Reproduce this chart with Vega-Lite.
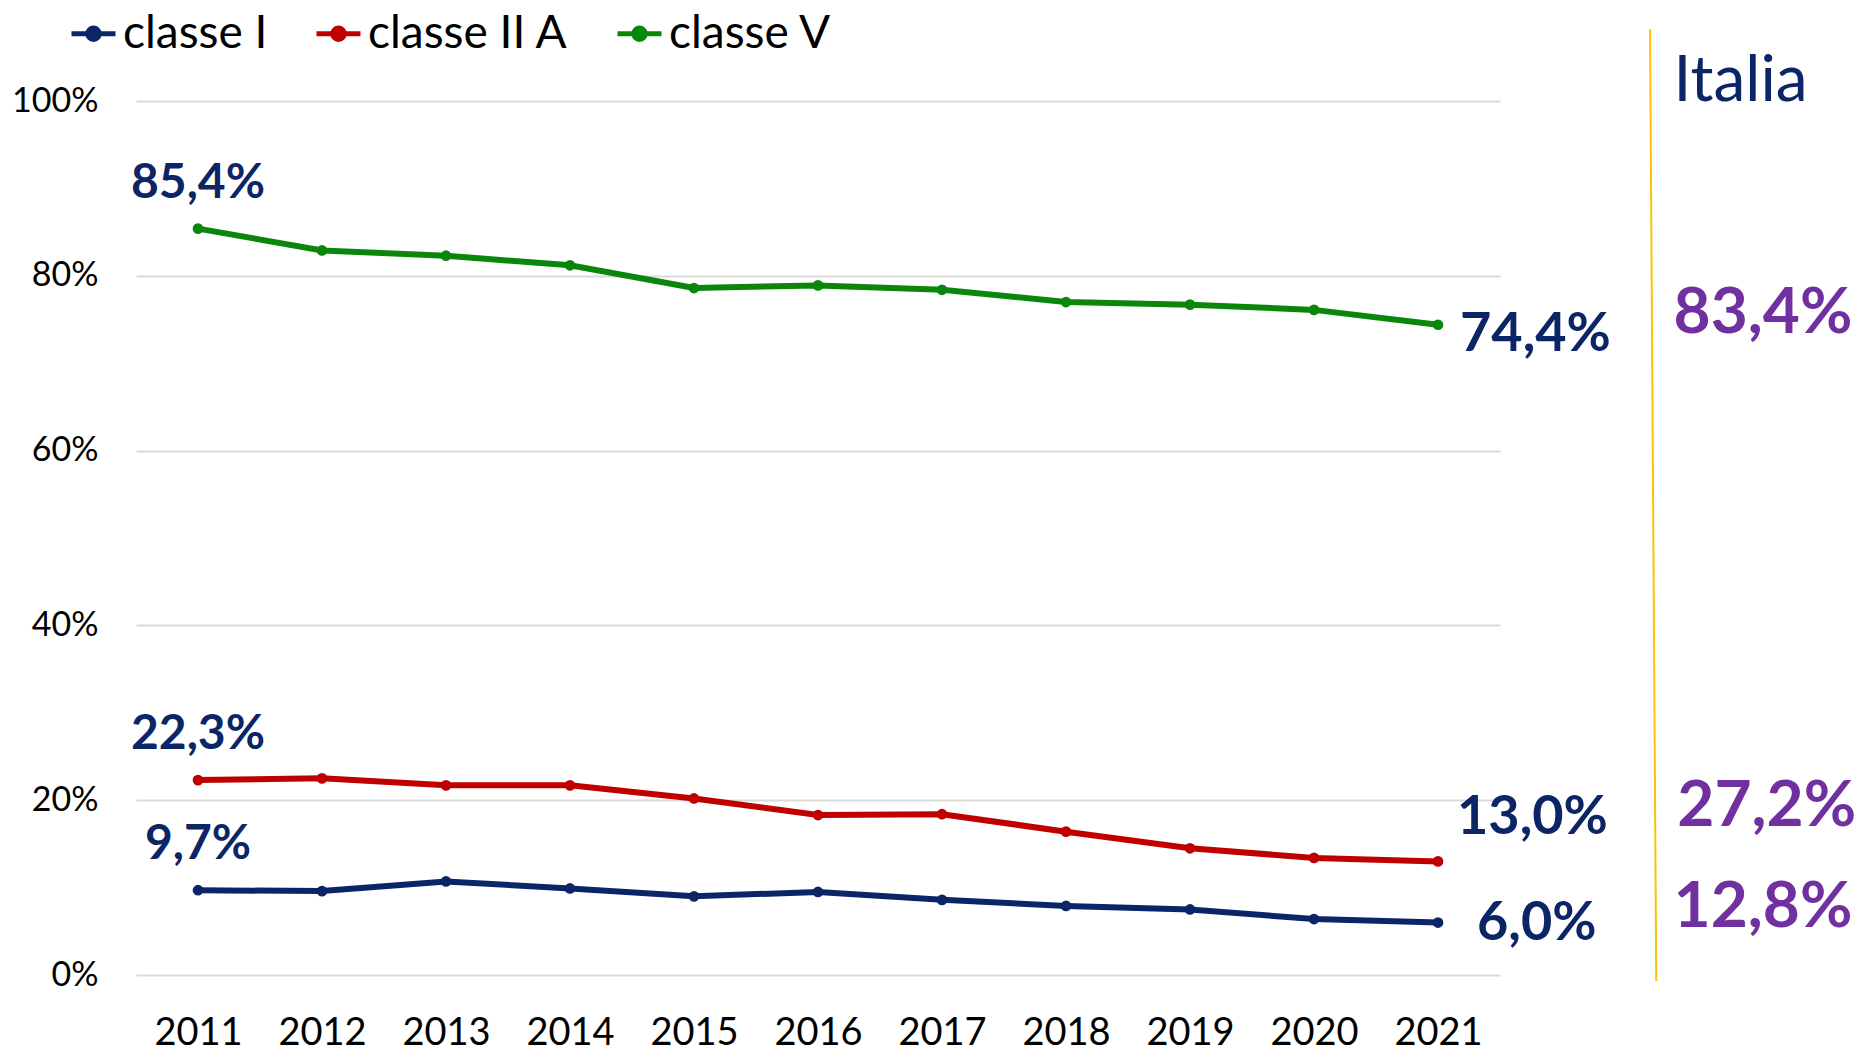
{
  "$schema": "https://vega.github.io/schema/vega-lite/v6.json",
  "width": 1364,
  "height": 874,
  "autosize": {"type": "none"},
  "padding": {"left": 136, "top": 101, "right": 364, "bottom": 76},
  "background": "white",
  "config": {
    "view": {"stroke": null},
    "font": "Lato",
    "text": {"font": "Lato"}
  },
  "datasets": {
    "series": [
      {"year": 2011, "classe": "classe I", "value": 9.7},
      {"year": 2012, "classe": "classe I", "value": 9.6},
      {"year": 2013, "classe": "classe I", "value": 10.7},
      {"year": 2014, "classe": "classe I", "value": 9.9},
      {"year": 2015, "classe": "classe I", "value": 9.0},
      {"year": 2016, "classe": "classe I", "value": 9.5},
      {"year": 2017, "classe": "classe I", "value": 8.6},
      {"year": 2018, "classe": "classe I", "value": 7.9},
      {"year": 2019, "classe": "classe I", "value": 7.5},
      {"year": 2020, "classe": "classe I", "value": 6.4},
      {"year": 2021, "classe": "classe I", "value": 6.0},
      {"year": 2011, "classe": "classe II A", "value": 22.3},
      {"year": 2012, "classe": "classe II A", "value": 22.5},
      {"year": 2013, "classe": "classe II A", "value": 21.7},
      {"year": 2014, "classe": "classe II A", "value": 21.7},
      {"year": 2015, "classe": "classe II A", "value": 20.2},
      {"year": 2016, "classe": "classe II A", "value": 18.3},
      {"year": 2017, "classe": "classe II A", "value": 18.4},
      {"year": 2018, "classe": "classe II A", "value": 16.4},
      {"year": 2019, "classe": "classe II A", "value": 14.5},
      {"year": 2020, "classe": "classe II A", "value": 13.4},
      {"year": 2021, "classe": "classe II A", "value": 13.0},
      {"year": 2011, "classe": "classe V", "value": 85.4},
      {"year": 2012, "classe": "classe V", "value": 82.9},
      {"year": 2013, "classe": "classe V", "value": 82.3},
      {"year": 2014, "classe": "classe V", "value": 81.2},
      {"year": 2015, "classe": "classe V", "value": 78.6},
      {"year": 2016, "classe": "classe V", "value": 78.9},
      {"year": 2017, "classe": "classe V", "value": 78.4},
      {"year": 2018, "classe": "classe V", "value": 77.0},
      {"year": 2019, "classe": "classe V", "value": 76.7},
      {"year": 2020, "classe": "classe V", "value": 76.1},
      {"year": 2021, "classe": "classe V", "value": 74.4}
    ],
    "italia": [
      {"classe": "classe V", "italia": 83.4},
      {"classe": "classe II A", "italia": 27.2},
      {"classe": "classe I", "italia": 12.8}
    ]
  },
  "layer": [
    {
      "data": {"name": "series"},
      "mark": {"type": "line", "strokeWidth": 6, "point": {"filled": true, "size": 115}},
      "encoding": {
        "x": {
          "field": "year", "type": "quantitative",
          "scale": {"domain": [2010.5, 2021.5], "nice": false, "zero": false},
          "axis": {
            "title": null, "values": [2011,2012,2013,2014,2015,2016,2017,2018,2019,2020,2021],
            "format": "d", "grid": false, "domain": false, "ticks": false,
            "labelFont": "Lato", "labelFontSize": 38, "labelColor": "#000000", "labelPadding": 39,
            "labelFlush": false
          }
        },
        "y": {
          "field": "value", "type": "quantitative",
          "scale": {"domain": [0, 100], "nice": false},
          "axis": {
            "title": null, "values": [0,20,40,60,80,100], "labelExpr": "datum.value + '%'",
            "grid": true, "gridColor": "#D9D9D9", "gridWidth": 2, "domain": false, "ticks": false,
            "labelFont": "Lato", "labelFontSize": 34, "labelColor": "#000000", "labelPadding": 38
          }
        },
        "color": {
          "field": "classe", "type": "nominal",
          "scale": {"domain": ["classe I", "classe II A", "classe V"], "range": ["#0C2566", "#C00000", "#0A870A"]},
          "legend": {
            "title": null, "orient": "none", "direction": "horizontal",
            "legendX": -67, "legendY": -92, "padding": 0,
            "labelFont": "Lato", "labelFontSize": 46, "labelColor": "#000000", "labelOffset": 5,
            "labelLimit": 500, "columnPadding": 38,
            "symbolType": "M-1,0H1M-0.26,0A0.26,0.26 0 1,1 0.26,0A0.26,0.26 0 1,1 -0.26,0Z",
            "symbolSize": 1936, "symbolStrokeWidth": 5,
            "encode": {"symbols": {"update": {"fill": {"scale": "color", "field": "value"}, "stroke": {"scale": "color", "field": "value"}}}}
          }
        }
      }
    },
    {
      "data": {"name": "series"},
      "transform": [
        {"filter": "datum.year == 2011"},
        {"calculate": "replace(format(datum.value, '.1f'), '.', ',') + '%'", "as": "label"}
      ],
      "mark": {"type": "text", "font": "Lato", "fontWeight": "bold", "fontSize": 48, "color": "#0C2566", "align": "center", "baseline": "middle", "dy": -45},
      "encoding": {
        "x": {"field": "year", "type": "quantitative"},
        "y": {"field": "value", "type": "quantitative"},
        "text": {"field": "label"}
      }
    },
    {
      "data": {"name": "series"},
      "transform": [
        {"filter": "datum.year == 2021 && datum.classe == 'classe V'"},
        {"calculate": "replace(format(datum.value, '.1f'), '.', ',') + '%'", "as": "label"}
      ],
      "mark": {"type": "text", "font": "Lato", "fontWeight": "bold", "fontSize": 54, "color": "#0C2566", "align": "left", "baseline": "middle", "dx": 22, "dy": 10},
      "encoding": {
        "x": {"field": "year", "type": "quantitative"},
        "y": {"field": "value", "type": "quantitative"},
        "text": {"field": "label"}
      }
    },
    {
      "data": {"name": "series"},
      "transform": [
        {"filter": "datum.year == 2021 && datum.classe == 'classe II A'"},
        {"calculate": "replace(format(datum.value, '.1f'), '.', ',') + '%'", "as": "label"}
      ],
      "mark": {"type": "text", "font": "Lato", "fontWeight": "bold", "fontSize": 54, "color": "#0C2566", "align": "left", "baseline": "middle", "dx": 19, "dy": -43},
      "encoding": {
        "x": {"field": "year", "type": "quantitative"},
        "y": {"field": "value", "type": "quantitative"},
        "text": {"field": "label"}
      }
    },
    {
      "data": {"name": "series"},
      "transform": [
        {"filter": "datum.year == 2021 && datum.classe == 'classe I'"},
        {"calculate": "replace(format(datum.value, '.1f'), '.', ',') + '%'", "as": "label"}
      ],
      "mark": {"type": "text", "font": "Lato", "fontWeight": "bold", "fontSize": 54, "color": "#0C2566", "align": "left", "baseline": "middle", "dx": 39, "dy": 1},
      "encoding": {
        "x": {"field": "year", "type": "quantitative"},
        "y": {"field": "value", "type": "quantitative"},
        "text": {"field": "label"}
      }
    },
    {
      "data": {"values": [{}]},
      "mark": {"type": "rule", "color": "#FFC000", "strokeWidth": 2},
      "encoding": {
        "x": {"datum": 2022.71, "type": "quantitative"},
        "x2": {"datum": 2022.76},
        "y": {"datum": 108.2, "type": "quantitative"},
        "y2": {"datum": -0.7}
      }
    },
    {
      "data": {"values": [{"label": "Italia"}]},
      "mark": {"type": "text", "font": "Lato", "fontSize": 64, "color": "#0C2566", "align": "left", "baseline": "middle"},
      "encoding": {
        "x": {"datum": 2022.9, "type": "quantitative"},
        "y": {"datum": 102.2, "type": "quantitative"},
        "text": {"field": "label"}
      }
    },
    {
      "data": {"name": "italia"},
      "transform": [
        {"filter": "datum.classe == 'classe V'"},
        {"calculate": "replace(format(datum.italia, '.1f'), '.', ',') + '%'", "as": "label"}
      ],
      "mark": {"type": "text", "font": "Lato", "fontWeight": "bold", "fontSize": 64, "color": "#7030A0", "align": "left", "baseline": "middle"},
      "encoding": {
        "x": {"datum": 2022.9, "type": "quantitative"},
        "y": {"datum": 75.65, "type": "quantitative"},
        "text": {"field": "label"}
      }
    },
    {
      "data": {"name": "italia"},
      "transform": [
        {"filter": "datum.classe == 'classe II A'"},
        {"calculate": "replace(format(datum.italia, '.1f'), '.', ',') + '%'", "as": "label"}
      ],
      "mark": {"type": "text", "font": "Lato", "fontWeight": "bold", "fontSize": 64, "color": "#7030A0", "align": "left", "baseline": "middle"},
      "encoding": {
        "x": {"datum": 2022.93, "type": "quantitative"},
        "y": {"datum": 19.2, "type": "quantitative"},
        "text": {"field": "label"}
      }
    },
    {
      "data": {"name": "italia"},
      "transform": [
        {"filter": "datum.classe == 'classe I'"},
        {"calculate": "replace(format(datum.italia, '.1f'), '.', ',') + '%'", "as": "label"}
      ],
      "mark": {"type": "text", "font": "Lato", "fontWeight": "bold", "fontSize": 64, "color": "#7030A0", "align": "left", "baseline": "middle"},
      "encoding": {
        "x": {"datum": 2022.9, "type": "quantitative"},
        "y": {"datum": 7.64, "type": "quantitative"},
        "text": {"field": "label"}
      }
    }
  ]
}
